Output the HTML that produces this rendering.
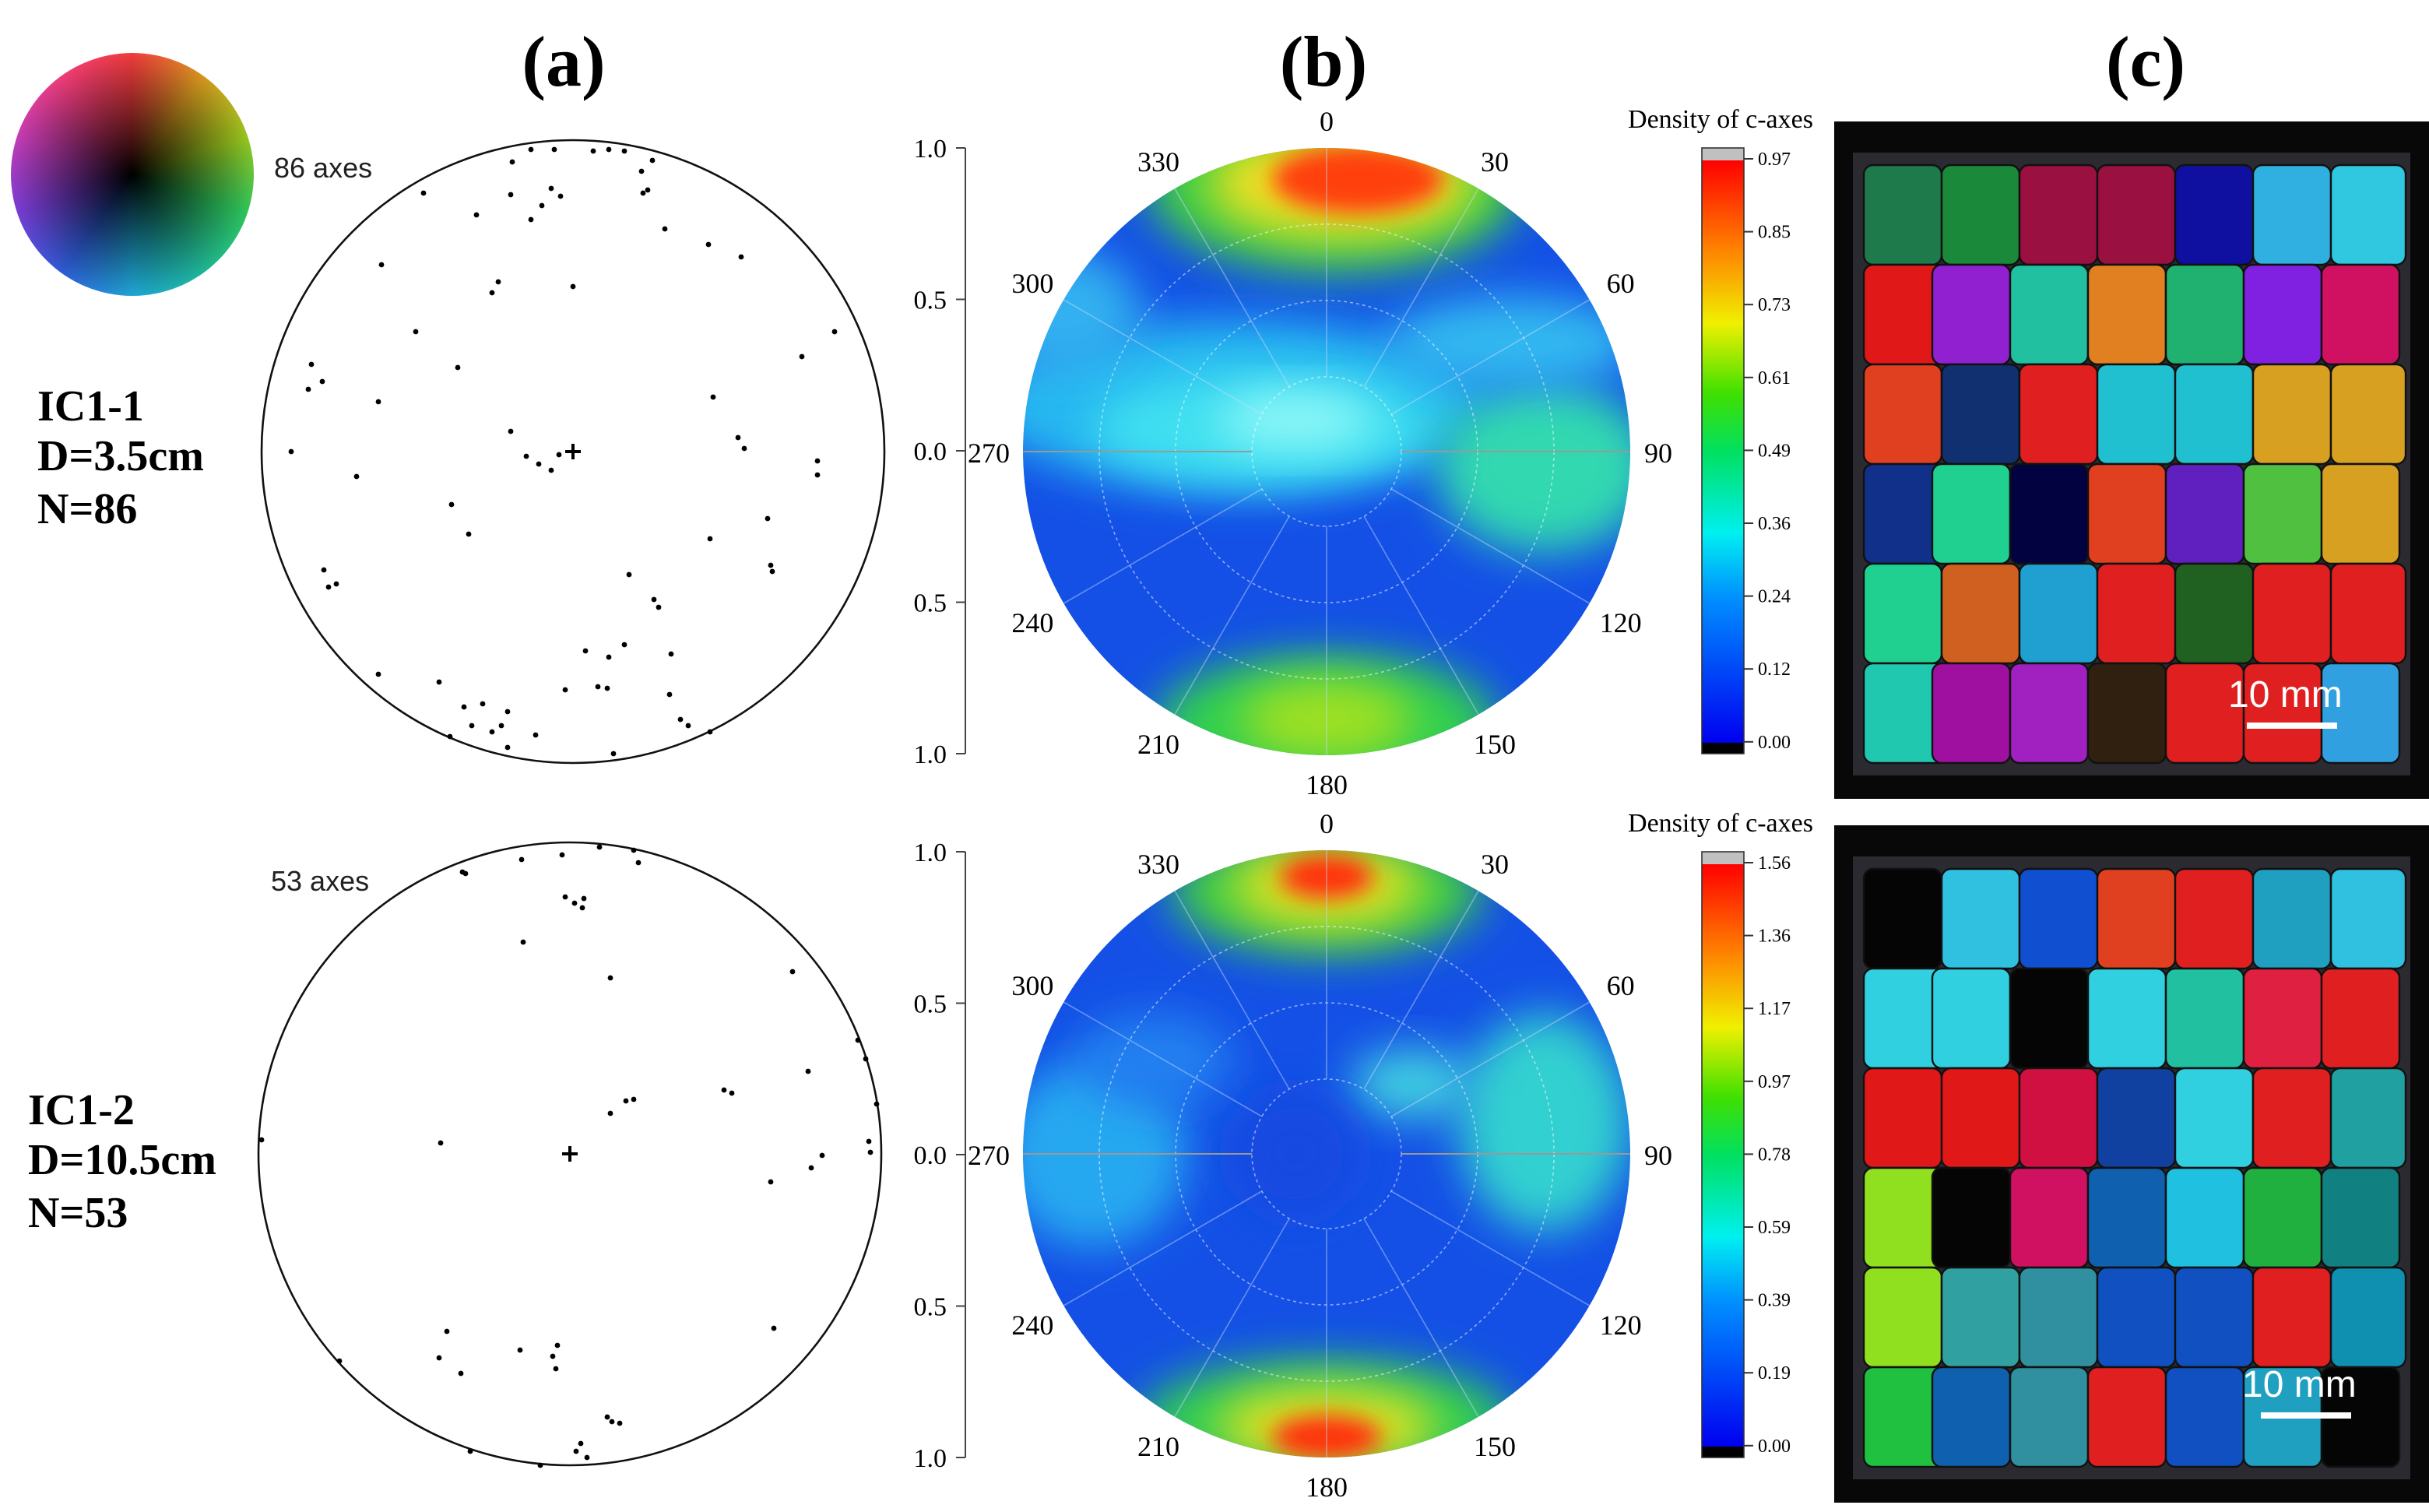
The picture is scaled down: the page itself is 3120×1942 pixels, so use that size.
<!DOCTYPE html>
<html><head><meta charset="utf-8"><style>
html,body{margin:0;padding:0;background:#fff;}
#root{position:relative;width:3120px;height:1942px;overflow:hidden;}
#wheel{position:absolute;left:14px;top:68px;width:312px;height:312px;border-radius:50%;
background:radial-gradient(circle,#000 0%,rgba(0,0,0,0.75) 18%,rgba(0,0,0,0) 75%),conic-gradient(from 0deg,#ff4040,#e0a020,#a0d020,#30d060,#20c0a0,#20b0e0,#3060e0,#8040e0,#d040c0,#ff4080,#ff4040);}
svg{position:absolute;left:0;top:0;}
</style></head><body>
<div id="root">
<div id="wheel"></div>
<svg id="svg" width="3120" height="1942" viewBox="0 0 1560 971" xmlns="http://www.w3.org/2000/svg" font-family="Liberation Serif, serif">
<defs>
<filter id="blur" x="-50%" y="-50%" width="200%" height="200%"><feGaussianBlur stdDeviation="14"/></filter>
<filter id="blur2" x="-50%" y="-50%" width="200%" height="200%"><feGaussianBlur stdDeviation="7"/></filter>
<clipPath id="c1"><circle cx="852" cy="290" r="195"/></clipPath>
<clipPath id="c2"><circle cx="852" cy="741" r="195"/></clipPath>
<linearGradient id="cb" x1="0" y1="1" x2="0" y2="0">
<stop offset="0" stop-color="#0000f0"/><stop offset="0.25" stop-color="#0090ff"/><stop offset="0.36" stop-color="#00f0f0"/><stop offset="0.5" stop-color="#00e060"/><stop offset="0.6" stop-color="#40e000"/><stop offset="0.72" stop-color="#f0f000"/><stop offset="0.85" stop-color="#ff8000"/><stop offset="1" stop-color="#ff0000"/></linearGradient>
</defs>
<text x="362" y="55" font-size="46" font-weight="bold" text-anchor="middle">(a)</text>
<text x="850" y="55" font-size="46" font-weight="bold" text-anchor="middle">(b)</text>
<text x="1378" y="55" font-size="46" font-weight="bold" text-anchor="middle">(c)</text>
<g font-size="28" font-weight="bold">
<text x="24" y="270">IC1-1</text><text x="24" y="302">D=3.5cm</text><text x="24" y="336">N=86</text></g>
<g font-size="28" font-weight="bold">
<text x="18" y="722">IC1-2</text><text x="18" y="754">D=10.5cm</text><text x="18" y="788">N=53</text></g>
<g id="stereo"></g>
<g id="dens"></g>
<g id="grains"></g>
</svg>
</div>
<script>
// stereonet points in normalized units (-1..1)
const pts1X=[-0.135,-0.06,0.115,0.165,0.065,0.255,0.22,-0.195,0.24,0.225,-0.07,-0.04,-0.2,-0.1,-0.48,-0.31,-0.135,0.295,0.435,0.54,-0.615,-0.24,-0.26,0,-0.505,0.84,-0.84,0.735,-0.805,-0.85,-0.37,-0.625,0.45,-0.2,0.53,0.55,-0.15,-0.11,-0.905,0.785,0.785,-0.07,-0.045,-0.695,-0.39,0.625,0.44,-0.335,-0.8,-0.785,-0.76,0.18,0.26,0.275,0.635,0.64,0.04,0.115,0.165,0.315,-0.625,-0.43,-0.025,0.08,0.11,0.31,-0.29,-0.21,-0.325,-0.23,-0.26,-0.12,0.345,0.37,-0.395,-0.21,0.13,0.44,-0.35];
const pts1Y=[0.97,0.97,0.97,0.965,0.965,0.935,0.9,0.93,0.84,0.83,0.845,0.82,0.825,0.79,0.83,0.76,0.745,0.715,0.665,0.625,0.6,0.545,0.51,0.53,0.385,0.385,0.28,0.305,0.225,0.2,0.27,0.16,0.175,0.065,0.045,0.01,-0.015,-0.04,0,-0.03,-0.075,-0.06,-0.01,-0.08,-0.17,-0.215,-0.28,-0.265,-0.38,-0.435,-0.425,-0.395,-0.475,-0.5,-0.365,-0.385,-0.64,-0.66,-0.62,-0.65,-0.715,-0.74,-0.765,-0.755,-0.76,-0.78,-0.81,-0.835,-0.88,-0.88,-0.9,-0.91,-0.86,-0.88,-0.915,-0.95,-0.97,-0.9,-0.82];
const pts2X=[-0.345,-0.335,-0.155,-0.025,0.095,0.205,-0.015,0.015,0.04,0.045,0.22,-0.15,0.13,0.715,0.765,0.925,0.95,0.495,0.52,0.18,0.205,0.13,-0.415,-0.99,0.96,0.81,0.775,0.645,0.985,0.965,-0.395,-0.42,-0.35,-0.16,-0.055,-0.04,-0.045,-0.74,0.655,0.135,0.16,0.12,0.035,0.02,-0.32,-0.095,0.055];
const pts2Y=[0.905,0.9,0.945,0.96,0.985,0.975,0.825,0.805,0.79,0.82,0.935,0.68,0.565,0.585,0.265,0.365,0.305,0.205,0.195,0.17,0.175,0.13,0.035,0.045,0.04,-0.005,-0.045,-0.09,0.16,0.005,-0.57,-0.655,-0.705,-0.63,-0.65,-0.615,-0.69,-0.665,-0.56,-0.86,-0.865,-0.845,-0.93,-0.955,-0.955,-1.0,-0.975];
const angLabels=[0,30,60,90,120,150,180,210,240,270,300,330];
const scaleTicks=["1.0","0.5","0.0","0.5","1.0"];
const cbTicks1=["0.97","0.85","0.73","0.61","0.49","0.36","0.24","0.12","0.00"];
const cbTicks2=["1.56","1.36","1.17","0.97","0.78","0.59","0.39","0.19","0.00"];
const grid1=[["#1e7a4a","#1a8a3a","#9a1040","#9a1040","#1010a0","#30b0e0","#30c8e0"],["#e01818","#9020d0","#20c0a0","#e08020","#20b070","#8020e0","#d01060"],["#e04020","#103070","#e02020","#20c0d0","#20c0d0","#d8a020","#d8a020"],["#10308a","#20d090","#020240","#e04020","#6020c0","#50c040","#d8a020"],["#20d090","#d06020","#20a0d0","#e02020","#206020","#e02020","#e02020"],["#20c8b0","#a010a0","#a020c0","#302010","#e02020","#e02020","#30a0e0"]];
const grid2=[["#050505","#30c0e0","#1050d0","#e04020","#e02020","#20a0c0","#30c0e0"],["#30d0e0","#30d0e0","#050505","#30d0e0","#20c0a0","#e02040","#e02020"],["#e01818","#e01818","#d01040","#1040a0","#30d0e0","#e02020","#20a0a0"],["#90e020","#050505","#d01060","#1060b0","#20c0e0","#20b040","#108080"],["#90e020","#30a0a0","#3090a0","#1050c0","#1050c0","#e02020","#1090b0"],["#20c040","#1060b0","#3090a0","#e02020","#1050c0","#20a0c0","#050505"]];
const NS="http://www.w3.org/2000/svg";
function mk(tag,attrs,parent,txt){const e=document.createElementNS(NS,tag);for(const k in attrs)e.setAttribute(k,attrs[k]);if(txt!==undefined)e.textContent=txt;parent.appendChild(e);return e;}
const st=document.getElementById('stereo');
function stereonet(cx,cy,r,xs,ys,label,ly,idx){
  const g=mk('g',{},st);
  
  
  const c=mk('circle',{cx:cx,cy:cy,r:r,fill:'none',stroke:'#111','stroke-width':1.3},g);
  
  
  const p=mk('path',{d:`M${cx-5} ${cy}h10M${cx} ${cy-5}v10`,stroke:'#000','stroke-width':2},g);
  
  
  const t=mk('text',{x:cx-192,y:ly,'font-size':18,'font-family':'Liberation Sans, sans-serif',fill:'#222'},g,label);
  
  
  for(let i=0;i<xs.length;i++){
    const d=mk('circle',{cx:cx+xs[i]*r,cy:cy-ys[i]*r,r:1.7,fill:'#000'},g);
    
    
  }
}
stereonet(368,290,200,pts1X,pts1Y,'86 axes',114,1);
stereonet(366,741,200,pts2X,pts2Y,'53 axes',572,2);
function scale(y0,idx){
  const g=mk('g',{},st);
  
  
  mk('line',{x1:620,y1:y0,x2:620,y2:y0+389,stroke:'#444','stroke-width':1},g);
  scaleTicks.forEach((s,i)=>{const y=y0+i*97.25;mk('line',{x1:614,y1:y,x2:620,y2:y,stroke:'#444'},g);
    const t=mk('text',{x:608,y:y+6,'font-size':17,'text-anchor':'end'},g,s);
    
    });
}
scale(95,1);scale(547,2);
const dn=document.getElementById('dens');
function blob(g,x,y,rx,ry,col,f){mk('ellipse',{cx:x,cy:y,rx:rx,ry:ry,fill:col,filter:'url(#'+(f||'blur')+')'},g);}
function density(cy,clip,blobs,idx){
  const cx=852,r=195;
  const g=mk('g',{'clip-path':'url(#'+clip+')'},dn);
  
  
  mk('circle',{cx:cx,cy:cy,r:r,fill:'#1450e6'},g);
  blobs.forEach(b=>blob(g,cx+b[0],cy+b[1],b[2],b[3],b[4],b[5]));
  [48,97,146].forEach(rr=>mk('circle',{cx:cx,cy:cy,r:rr,fill:'none',stroke:'rgba(255,255,255,0.5)','stroke-width':0.8,'stroke-dasharray':'2 2'},g));
  for(let a=0;a<360;a+=30){const t=a*Math.PI/180;mk('line',{x1:cx+48*Math.sin(t),y1:cy-48*Math.cos(t),x2:cx+r*Math.sin(t),y2:cy-r*Math.cos(t),stroke:'rgba(200,220,255,0.45)','stroke-width':0.8},g);}
  mk('line',{x1:cx-r,y1:cy,x2:cx-48,y2:cy,stroke:'#999','stroke-width':1},g);
  mk('line',{x1:cx+48,y1:cy,x2:cx+r,y2:cy,stroke:'#999','stroke-width':1},g);
  const o=mk('g',{},dn);
  angLabels.forEach(a=>{const t=a*Math.PI/180;const rr=a%90===0?213:(a===30||a===330||a===150||a===210?216:218);
    let x=cx+rr*Math.sin(t),y=cy-rr*Math.cos(t)+7;
    if(a===270)x-=4;
    const tx=mk('text',{x:x,y:y,'font-size':18,'text-anchor':'middle'},o,String(a));
    
    });
}
density(290,'c1',[[-60,-30,160,55,'#28b8f0'],[-40,-15,110,35,'#40e0f0'],[-20,-20,50,18,'#90f8f8'],[140,10,70,55,'#30d8b0'],[120,-70,80,30,'#30b8f0'],[5,-170,120,55,'#40d040'],[10,-172,85,35,'#f0e020'],[20,-175,55,22,'#ff4010','blur2'],[0,175,110,45,'#30d050'],[0,172,55,25,'#a0e020'],[-170,-90,50,40,'#30b0f0']],1);
density(741,'c2',[[-150,0,60,60,'#28a8f0'],[140,-20,55,70,'#30d0d0'],[55,-45,40,22,'#40d0e0'],[-20,0,40,40,'#1848e0'],[0,-168,100,40,'#40d040'],[0,-172,60,26,'#e0e020'],[0,-178,30,14,'#ff3010','blur2'],[0,172,120,40,'#30d050'],[0,175,70,25,'#e0e020'],[0,182,35,14,'#ff3010','blur2'],[-110,-60,50,30,'#2080f0']],2);
function colorbar(y0,ticks,idx){
  const g=mk('g',{},dn);
  
  
  const tt=mk('text',{x:1105,y:y0-13,'font-size':17,'text-anchor':'middle'},g,'Density of c-axes');
  
  
  mk('rect',{x:1093,y:y0,width:27,height:8,fill:'#c0c0c0'},g);
  mk('rect',{x:1093,y:y0+8,width:27,height:374,fill:'url(#cb)'},g);
  mk('rect',{x:1093,y:y0+382,width:27,height:7,fill:'#000'},g);
  mk('rect',{x:1093,y:y0,width:27,height:389,fill:'none',stroke:'#333','stroke-width':0.8},g);
  ticks.forEach((s,i)=>{const y=y0+7+i*46.8;mk('line',{x1:1120,y1:y,x2:1126,y2:y,stroke:'#333'},g);
    const t=mk('text',{x:1129,y:y+4,'font-size':12},g,s);
    
    });
}
colorbar(95,cbTicks1,1);colorbar(547,cbTicks2,2);
const gr=document.getElementById('grains');
function grains(y0,grid,sy,idx){
  const g=mk('g',{},gr);
  
  
  mk('rect',{x:1178,y:y0,width:382,height:435,fill:'#080808'},g);
  mk('rect',{x:1190,y:y0+20,width:358,height:400,fill:'#2a2a30'},g);
  const cw=50,ch=64,x0=1197,yy=y0+28;
  grid.forEach((row,r)=>row.forEach((c,k)=>{
    const off=(r%2)*12;
    const x=x0+k*cw+(k===0?0:-off/2),w=cw+(k===0?off/2:0);
    mk('rect',{x:x,y:yy+r*ch,width:Math.min(w,1545-x),height:ch,fill:c,stroke:'#111','stroke-width':1.2,rx:6},g);
  }));
  mk('line',{x1:sy[0],y1:sy[1],x2:sy[0]+58,y2:sy[1],stroke:'#fff','stroke-width':4},g);
  const t=mk('text',{x:sy[0]-12,y:sy[1]-12,'font-size':24,fill:'#fff','font-family':'Liberation Sans, sans-serif'},g,'10 mm');
  
  
}
grains(78,grid1,[1443,466],1);grains(530,grid2,[1452,909],2);
</script>
</body></html>
